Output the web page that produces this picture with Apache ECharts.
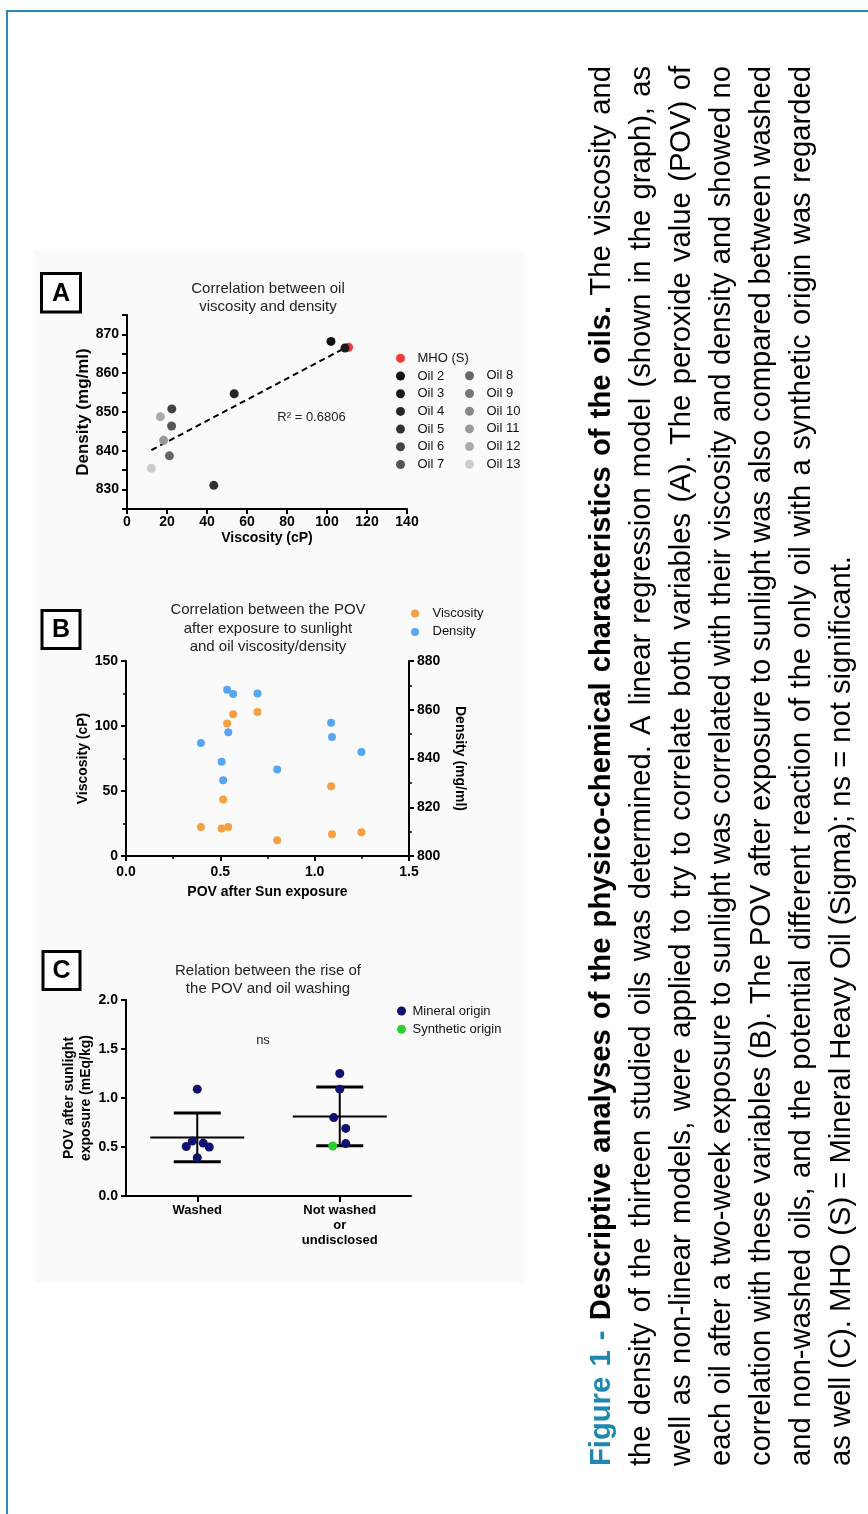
<!DOCTYPE html>
<html>
<head>
<meta charset="utf-8">
<script src="https://cdn.jsdelivr.net/npm/echarts@6/dist/echarts.min.js"></script>
<style>
  html, body { margin: 0; padding: 0; background: #fff; }
  #chart { width: 868px; height: 1514px; }
</style>
</head>
<body>
<div id="chart"></div>
<script>
// ---- Panel A / B: oil properties (null = not measured) ----
const oilNames  = ['MHO (S)', 'Oil 2', 'Oil 3', 'Oil 4', 'Oil 5', 'Oil 6', 'Oil 7',
                   'Oil 8', 'Oil 9', 'Oil 10', 'Oil 11', 'Oil 12', 'Oil 13'];
const viscosity = [110.8, 102.0, 109.0, 53.6, 43.4, 22.4, 22.3, 21.2, null, null, 18.3, 16.7, 12.2];
const density   = [866.7, 868.2, 866.5, 854.7, 831.1, 850.8, 846.4, 838.7, null, null, 842.7, 848.8, 835.5];
const povSun    = [0.697, 0.536, 0.568, 1.087, 0.515, 0.542, 0.397, 0.507, null, null, 1.248, 1.092, 0.801];
const r2Label   = 'R² = 0.6806';

// ---- Panel C: POV after sunlight exposure by washing group ----
const groups          = ['Washed', 'Not washed\nor\nundisclosed'];
const washedPOV       = [1.09, 0.56, 0.505, 0.54, 0.50, 0.39];
const washedOrigin    = ['Mineral', 'Mineral', 'Mineral', 'Mineral', 'Mineral', 'Mineral'];
const notWashedPOV    = [1.25, 1.09, 0.80, 0.69, 0.535, 0.51];
const notWashedOrigin = ['Mineral', 'Mineral', 'Mineral', 'Mineral', 'Mineral', 'Synthetic'];

// ---- styling ----
const oilColors = ['#f23a3a', '#111111', '#1b1b1b', '#262626', '#303030', '#444444', '#555555',
                   '#666666', '#777777', '#888888', '#999999', '#aaaaaa', '#cccccc'];
const washedJitter    = [0, -5, -11, 6, 12, 0];     // horizontal spread of dots, px
const notWashedJitter = [0, 0, -6, 6, 6, -7];
const FONT = '"Liberation Sans", Arial, sans-serif';

const axisLine = { show: true, lineStyle: { color: '#000', width: 2 } };
const axisTick = { show: true, inside: false, length: 5, lineStyle: { color: '#000', width: 2 } };
const minorTick = { show: true, splitNumber: 2, length: 3, lineStyle: { color: '#000', width: 1.5 } };
const axisLabel = { color: '#000', fontSize: 14, fontWeight: 'bold', fontFamily: FONT };
const nameStyle = { color: '#000', fontSize: 14, fontWeight: 'bold', fontFamily: FONT };

// ---- derived: linear regression for panel A ----
const pairsA = viscosity.map((v, i) => [v, density[i]]).filter(p => p[0] != null && p[1] != null);
const mx = pairsA.reduce((s, p) => s + p[0], 0) / pairsA.length;
const my = pairsA.reduce((s, p) => s + p[1], 0) / pairsA.length;
const sxy = pairsA.reduce((s, p) => s + (p[0] - mx) * (p[1] - my), 0);
const sxx = pairsA.reduce((s, p) => s + (p[0] - mx) * (p[0] - mx), 0);
const slope = sxy / sxx, intercept = my - slope * mx;
const xs = pairsA.map(p => p[0]);
const trendData = [Math.min(...xs), Math.max(...xs) - 3].map(x => [x, intercept + slope * x]);

// ---- derived: mean ± SD for panel C ----
function stats(arr) {
  const m = arr.reduce((a, b) => a + b, 0) / arr.length;
  const sd = Math.sqrt(arr.reduce((a, b) => a + (b - m) * (b - m), 0) / (arr.length - 1));
  return [m, sd];
}
const groupStats = [stats(washedPOV), stats(notWashedPOV)];

function originPoints(origin) {
  const pts = [];
  washedPOV.forEach((v, i) => { if (washedOrigin[i] === origin) pts.push({ value: [0, v], symbolOffset: [washedJitter[i], 0] }); });
  notWashedPOV.forEach((v, i) => { if (notWashedOrigin[i] === origin) pts.push({ value: [1, v], symbolOffset: [notWashedJitter[i], 0] }); });
  return pts;
}

// ---- series ----
const series = [];
series.push({
  type: 'line', name: 'trend', xAxisIndex: 0, yAxisIndex: 0, z: 1,
  data: trendData, showSymbol: false, symbol: 'none',
  lineStyle: { color: '#000', width: 2, type: [6, 4] }
});
oilNames.forEach((name, i) => {
  series.push({
    type: 'scatter', name, xAxisIndex: 0, yAxisIndex: 0, z: 3,
    symbolSize: 9, itemStyle: { color: oilColors[i], opacity: 1 },
    data: viscosity[i] != null ? [[viscosity[i], density[i]]] : []
  });
});
series.push({
  type: 'scatter', name: 'Viscosity', xAxisIndex: 1, yAxisIndex: 1, symbolSize: 8,
  itemStyle: { color: '#f5a042', opacity: 1 },
  data: povSun.map((p, i) => [p, viscosity[i]]).filter(d => d[0] != null)
});
series.push({
  type: 'scatter', name: 'Density', xAxisIndex: 1, yAxisIndex: 2, symbolSize: 8,
  itemStyle: { color: '#58a6f3', opacity: 1 },
  data: povSun.map((p, i) => [p, density[i]]).filter(d => d[0] != null)
});
series.push({
  type: 'custom', name: 'Mean ± SD', xAxisIndex: 2, yAxisIndex: 3, z: 1,
  data: groupStats.map((s, i) => [i, s[0], s[1]]),
  renderItem: (params, api) => {
    const c = api.value(0), m = api.value(1), sd = api.value(2);
    const pm = api.coord([c, m]), pt = api.coord([c, m + sd]), pb = api.coord([c, m - sd]);
    const wMean = 47, wCap = 23.5;
    return {
      type: 'group',
      children: [
        { type: 'line', shape: { x1: pm[0] - wMean, y1: pm[1], x2: pm[0] + wMean, y2: pm[1] }, style: { stroke: '#000', lineWidth: 2 } },
        { type: 'line', shape: { x1: pt[0], y1: pt[1], x2: pb[0], y2: pb[1] }, style: { stroke: '#000', lineWidth: 2 } },
        { type: 'line', shape: { x1: pt[0] - wCap, y1: pt[1], x2: pt[0] + wCap, y2: pt[1] }, style: { stroke: '#000', lineWidth: 3 } },
        { type: 'line', shape: { x1: pb[0] - wCap, y1: pb[1], x2: pb[0] + wCap, y2: pb[1] }, style: { stroke: '#000', lineWidth: 3 } }
      ]
    };
  }
});
series.push({
  type: 'scatter', name: 'Mineral origin', xAxisIndex: 2, yAxisIndex: 3, z: 3, symbolSize: 9,
  itemStyle: { color: '#10106e', opacity: 1 }, data: originPoints('Mineral')
});
series.push({
  type: 'scatter', name: 'Synthetic origin', xAxisIndex: 2, yAxisIndex: 3, z: 3, symbolSize: 9,
  itemStyle: { color: '#2ccf2c', opacity: 1 }, data: originPoints('Synthetic')
});

// ---- legends ----
const legendText = (pad) => ({ color: '#111', fontSize: 13, fontFamily: FONT, lineHeight: 14, padding: [0, 0, 0, pad] });
const legends = [
  { data: oilNames.slice(0, 7), orient: 'vertical', left: 391, top: 346.3, itemWidth: 9, itemHeight: 9,
    itemGap: 3.7, icon: 'circle', textStyle: legendText(7.5), selectedMode: false },
  { data: oilNames.slice(7), orient: 'vertical', left: 460, top: 363.8, itemWidth: 9, itemHeight: 9,
    itemGap: 3.7, icon: 'circle', textStyle: legendText(7.5), selectedMode: false },
  { data: ['Viscosity', 'Density'], orient: 'vertical', left: 406, top: 601.5, itemWidth: 8, itemHeight: 8,
    itemGap: 4.4, icon: 'circle', textStyle: legendText(8.5), selectedMode: false },
  { data: ['Mineral origin', 'Synthetic origin'], orient: 'vertical', left: 392, top: 999, itemWidth: 9, itemHeight: 9,
    itemGap: 4.3, icon: 'circle', textStyle: legendText(1.5), selectedMode: false }
];

// ---- caption (rotated, justified) ----
const captionLines = [
  [{ t: 'Figure 1 -', s: 'fig' }, { t: 'Descriptive analyses of the physico-chemical characteristics of the oils.', s: 'bold' }, { t: 'The viscosity and', s: 'normal' }],
  [{ t: 'the density of the thirteen studied oils was determined. A linear regression model (shown in the graph), as', s: 'normal' }],
  [{ t: 'well as non-linear models, were applied to try to correlate both variables (A). The peroxide value (POV) of', s: 'normal' }],
  [{ t: 'each oil after a two-week exposure to sunlight was correlated with their viscosity and density and showed no', s: 'normal' }],
  [{ t: 'correlation with these variables (B). The POV after exposure to sunlight was also compared between washed', s: 'normal' }],
  [{ t: 'and non-washed oils, and the potential different reaction of the only oil with a synthetic origin was regarded', s: 'normal' }],
  [{ t: 'as well (C). MHO (S) = Mineral Heavy Oil (Sigma); ns = not significant.', s: 'normal' }]
];
const CAP_FONT = 29.2, CAP_PITCH = 40, CAP_LEN = 1400, CAP_X0 = 602, CAP_Y0 = 1466;
const capStyles = {
  fig: { weight: 'bold', fill: '#1e87b0' },
  bold: { weight: 'bold', fill: '#000' },
  normal: { weight: 'normal', fill: '#000' }
};
const mctx = document.createElement('canvas').getContext('2d');
function measure(word, st) {
  mctx.font = st.weight + ' ' + CAP_FONT + 'px "Liberation Sans"';
  return mctx.measureText(word).width;
}
const capChildren = [];
captionLines.forEach((segs, li) => {
  const words = [];
  segs.forEach(seg => seg.t.split(' ').forEach(w => words.push({ w, st: capStyles[seg.s] })));
  const widths = words.map(o => measure(o.w, o.st));
  const total = widths.reduce((a, b) => a + b, 0);
  const justify = li < captionLines.length - 1;
  const gap = justify ? (CAP_LEN - total) / (words.length - 1) : measure(' ', capStyles.normal);
  let pos = 0;
  words.forEach((o, k) => {
    capChildren.push({
      type: 'text', x: pos, y: li * CAP_PITCH,
      style: {
        text: o.w, fill: o.st.fill, fontSize: CAP_FONT, fontWeight: o.st.weight, fontFamily: FONT,
        textAlign: 'left', textVerticalAlign: 'middle', align: 'left', verticalAlign: 'middle'
      }
    });
    pos += widths[k] + gap;
  });
});

// ---- text & frame elements ----
function panelBox(x, y, w, h, letter) {
  return [
    { type: 'rect', shape: { x, y, width: w, height: h }, style: { fill: '#fff', stroke: '#000', lineWidth: 3 }, z: 5 },
    { type: 'text', x: x + w / 2, y: y + h / 2 + 1, z: 6,
      style: { text: letter, fill: '#000', fontSize: 25, fontWeight: 'bold', fontFamily: FONT,
               textAlign: 'center', textVerticalAlign: 'middle', align: 'center', verticalAlign: 'middle' } }
  ];
}
function centerText(x, y, text, size, lh, extra) {
  return Object.assign({
    type: 'text', x, y, z: 5,
    style: { text, fill: '#222', fontSize: size, fontFamily: FONT, lineHeight: lh,
             textAlign: 'center', textVerticalAlign: 'middle', align: 'center', verticalAlign: 'middle' }
  }, extra || {});
}

const graphic = [
  { type: 'rect', silent: true, z: -10, shape: { x: 34, y: 250, width: 491, height: 1033 }, style: { fill: '#fafafa' } },
  { type: 'line', silent: true, shape: { x1: 6, y1: 11, x2: 868, y2: 11 }, style: { stroke: '#2a8ab2', lineWidth: 2 } },
  { type: 'line', silent: true, shape: { x1: 7, y1: 10, x2: 7, y2: 1514 }, style: { stroke: '#2a8ab2', lineWidth: 2 } },
  ...panelBox(41.5, 273.5, 39, 38.5, 'A'),
  ...panelBox(42, 610.5, 38, 38, 'B'),
  ...panelBox(43, 951.5, 37, 38, 'C'),
  centerText(268, 298, 'Correlation between oil\nviscosity and density', 15, 18),
  centerText(268, 628.5, 'Correlation between the POV\nafter exposure to sunlight\nand oil viscosity/density', 15, 18.5),
  centerText(268, 980, 'Relation between the rise of\nthe POV and oil washing', 15, 18.6),
  centerText(311.5, 417, r2Label, 13, 14),
  centerText(263, 1040, 'ns', 13, 14),
  { type: 'group', x: CAP_X0, y: CAP_Y0, rotation: Math.PI / 2, children: capChildren }
];

const option = {
  animation: false,
  textStyle: { fontFamily: FONT },
  grid: [
    { left: 127, top: 315, width: 280, height: 194 },
    { left: 126, top: 661, width: 283, height: 195 },
    { left: 126, top: 1000, width: 285, height: 196 }
  ],
  xAxis: [
    { gridIndex: 0, type: 'value', min: 0, max: 140, interval: 20, axisLine, axisTick,
      axisLabel: Object.assign({ margin: 6 }, axisLabel), splitLine: { show: false },
      name: 'Viscosity (cP)', nameLocation: 'middle', nameGap: 22, nameTextStyle: nameStyle },
    { gridIndex: 1, type: 'value', min: 0, max: 1.5, interval: 0.5, axisLine, axisTick, minorTick,
      axisLabel: Object.assign({ margin: 9, formatter: v => v.toFixed(1) }, axisLabel), splitLine: { show: false },
      minorSplitLine: { show: false },
      name: 'POV after Sun exposure', nameLocation: 'middle', nameGap: 29, nameTextStyle: nameStyle },
    { gridIndex: 2, type: 'category', data: groups, axisLine,
      axisTick: Object.assign({ alignWithLabel: true }, axisTick, { length: 6 }),
      axisLabel: Object.assign({ margin: 7, lineHeight: 15 }, axisLabel, { fontSize: 13 }),
      splitLine: { show: false } }
  ],
  yAxis: [
    { gridIndex: 0, type: 'value', min: 825, max: 875, interval: 5, axisLine, axisTick,
      axisLabel: Object.assign({ margin: 8, formatter: v => (v % 10 === 0 ? String(v) : '') }, axisLabel),
      splitLine: { show: false },
      name: 'Density (mg/ml)', nameLocation: 'middle', nameGap: 35,
      nameTextStyle: Object.assign({}, nameStyle, { fontSize: 17 }) },
    { gridIndex: 1, type: 'value', position: 'left', min: 0, max: 150, interval: 50, axisLine, axisTick, minorTick,
      axisLabel: Object.assign({ margin: 8 }, axisLabel), splitLine: { show: false }, minorSplitLine: { show: false },
      name: 'Viscosity (cP)', nameLocation: 'middle', nameGap: 36, nameTextStyle: nameStyle },
    { gridIndex: 1, type: 'value', position: 'right', min: 800, max: 880, interval: 20, axisLine, axisTick, minorTick,
      axisLabel: Object.assign({ margin: 8 }, axisLabel), splitLine: { show: false }, minorSplitLine: { show: false },
      name: 'Density (mg/ml)', nameLocation: 'middle', nameGap: 44, nameRotate: -90, nameTextStyle: nameStyle },
    { gridIndex: 2, type: 'value', min: 0, max: 2, interval: 0.5, axisLine, axisTick,
      axisLabel: Object.assign({ margin: 8, formatter: v => v.toFixed(1) }, axisLabel), splitLine: { show: false },
      name: 'POV after sunlight\nexposure (mEq/kg)', nameLocation: 'middle', nameGap: 32,
      nameTextStyle: Object.assign({ lineHeight: 16.5 }, nameStyle) }
  ],
  legend: legends,
  series,
  graphic
};

const chart = echarts.init(document.getElementById('chart'), null, { renderer: 'canvas', width: 868, height: 1514 });
chart.setOption(option);
</script>
</body>
</html>
